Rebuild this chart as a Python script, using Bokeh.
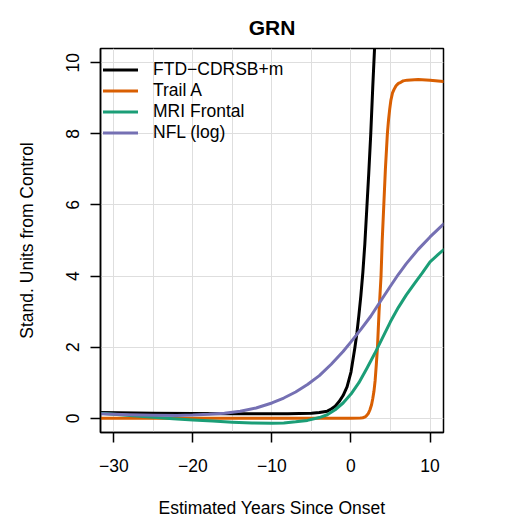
from bokeh.plotting import figure
from bokeh.models import Range1d, FixedTicker, Legend, LegendItem
from bokeh.embed import file_html
from bokeh.resources import INLINE

# ---- data ----
title_text = "GRN"
x_label = "Estimated Years Since Onset"
y_label = "Stand. Units from Control"
x_ticks = [-30, -20, -10, 0, 10]
y_ticks = [0, 2, 4, 6, 8, 10]
x_grid = [-30, -25, -20, -15, -10, -5, 0, 5, 10]
y_grid = [0, 2, 4, 6, 8, 10]

series_names = ["FTD\u2212CDRSB+m", "Trail A", "MRI Frontal", "NFL (log)"]
series_colors = ["#000000", "#D95F02", "#1B9E77", "#7570B3"]

cdr_x = [-31.7, -25, -15, -8, -5, -4, -3, -2.5, -2, -1.5, -1, -0.5, 0, 0.5, 0.75, 1.0, 1.25, 1.5, 1.75, 2.0, 2.25, 2.5, 2.75, 3.0]
cdr_y = [0.16, 0.14, 0.13, 0.13, 0.14, 0.16, 0.20, 0.26, 0.34, 0.47, 0.64, 0.88, 1.3, 2.0, 2.4, 2.9, 3.45, 4.1, 4.9, 5.9, 6.9, 8.0, 9.3, 10.5]

trail_x = [-31.7, 0, 1.2, 1.5, 1.8, 2.0, 2.2, 2.4, 2.6, 2.75, 2.9, 3.05, 3.2, 3.35, 3.45, 3.55, 3.65, 3.8, 3.95, 4.15, 4.35, 4.6, 4.75, 4.9, 5.05, 5.25, 5.45, 5.7, 6.0, 6.3, 6.6, 7.1, 8.5, 10, 11.7]
trail_y = [0.0, 0.0, 0.005, 0.015, 0.04, 0.08, 0.14, 0.24, 0.38, 0.55, 0.75, 1.05, 1.5, 2.0, 2.5, 3.0, 3.4, 4.0, 5.0, 6.0, 7.0, 8.0, 8.4, 8.7, 8.95, 9.15, 9.25, 9.35, 9.42, 9.45, 9.49, 9.51, 9.53, 9.51, 9.47]

mri_x = [-31.7, -30, -28, -25, -22.5, -20, -17.5, -15, -12.5, -10, -8.5, -7, -5.5, -4, -3, -2, -1, 0, 1, 2, 3, 4, 5, 6, 7, 8, 9, 10, 11, 11.7]
mri_y = [0.14, 0.11, 0.08, 0.03, -0.01, -0.05, -0.08, -0.11, -0.13, -0.14, -0.13, -0.10, -0.06, 0.02, 0.10, 0.24, 0.43, 0.68, 1.0, 1.4, 1.82, 2.27, 2.72, 3.12, 3.47, 3.78, 4.08, 4.4, 4.6, 4.74]

nfl_x = [-31.7, -30, -28, -25, -22, -20, -18, -16, -14, -12, -10, -8.5, -7, -5.5, -4, -2.5, -1, 0, 1.25, 2.5, 3.75, 5, 6, 7, 8.5, 10, 11.7]
nfl_y = [0.13, 0.115, 0.10, 0.085, 0.08, 0.09, 0.11, 0.14, 0.20, 0.29, 0.43, 0.57, 0.74, 0.95, 1.2, 1.52, 1.88, 2.15, 2.5, 2.87, 3.3, 3.72, 4.05, 4.35, 4.75, 5.1, 5.46]

FONT = "Liberation Sans"

p = figure(width=520, height=520, output_backend="svg", toolbar_location=None,
           x_range=Range1d(-31.68, 11.70), y_range=Range1d(-0.4, 10.4),
           min_border_left=100, min_border_right=77, min_border_top=48, min_border_bottom=88)

p.background_fill_color = "white"
p.border_fill_color = "white"
p.outline_line_color = "black"
p.outline_line_width = 1.5
p.outline_line_alpha = 1

p.title.text = title_text
p.title.align = "center"
p.title.text_font = FONT
p.title.text_font_size = "21px"
p.title.text_font_style = "bold"
p.title.text_color = "black"
p.title.standoff = 19

for ax, ticks in ((p.xaxis[0], x_ticks), (p.yaxis[0], y_ticks)):
    ax.ticker = FixedTicker(ticks=ticks)
    ax.major_tick_in = 0
    ax.major_tick_out = 10
    ax.major_tick_line_width = 1.5
    ax.major_tick_line_color = "black"
    ax.minor_tick_line_color = None
    ax.axis_line_color = "black"
    ax.axis_line_width = 1.5
    ax.major_label_text_font = FONT
    ax.major_label_text_font_size = "17.5px"
    ax.major_label_text_color = "black"
    ax.axis_label_text_font = FONT
    ax.axis_label_text_font_size = "17.5px"
    ax.axis_label_text_font_style = "normal"
    ax.axis_label_text_color = "black"

p.xaxis[0].axis_label = x_label
p.xaxis[0].major_label_standoff = 16
p.xaxis[0].axis_label_standoff = 23
p.yaxis[0].axis_label = y_label
p.yaxis[0].major_label_orientation = "vertical"
p.yaxis[0].major_label_standoff = 11
p.yaxis[0].axis_label_standoff = 27

p.xgrid.ticker = FixedTicker(ticks=x_grid)
p.ygrid.ticker = FixedTicker(ticks=y_grid)
for g in (p.xgrid[0], p.ygrid[0]):
    g.grid_line_color = "#dedede"
    g.grid_line_width = 1

renderers = []
for xs, ys, col in ((cdr_x, cdr_y, series_colors[0]), (trail_x, trail_y, series_colors[1]),
                    (mri_x, mri_y, series_colors[2]), (nfl_x, nfl_y, series_colors[3])):
    r = p.line(xs, ys, line_color=col, line_width=3, line_join="round", line_cap="round")
    renderers.append(r)

legend = Legend(items=[LegendItem(label=n, renderers=[r]) for n, r in zip(series_names, renderers)],
                location=(3, 289), border_line_color=None, background_fill_alpha=0,
                label_text_font=FONT, label_text_font_size="17.5px", label_text_color="black",
                glyph_width=35, glyph_height=21, label_height=21, spacing=0, padding=0, margin=0,
                label_standoff=15)
p.add_layout(legend, "center")

open("out.html", "w").write(file_html(p, INLINE))
